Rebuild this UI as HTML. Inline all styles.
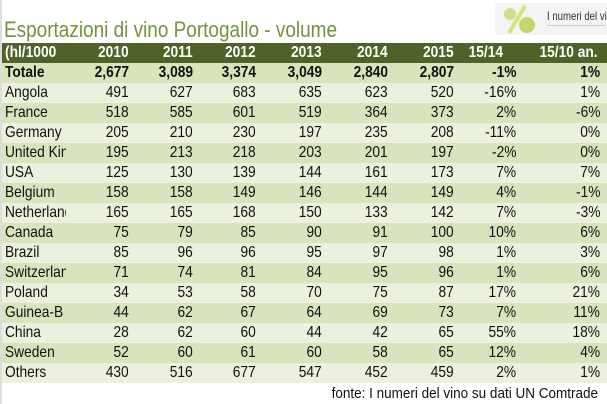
<!DOCTYPE html>
<html><head><meta charset="utf-8"><style>
body{margin:0;width:607px;height:404px;background:#fff;overflow:hidden;position:relative;font-family:"Liberation Sans",sans-serif;}
.r{position:absolute;left:2px;width:605px;height:20px;font-size:16px;line-height:20px;color:#111}
.r span{position:absolute;text-align:right;white-space:nowrap;transform:scaleX(0.86);transform-origin:right center}
.r span.c{left:3px;text-align:left;transform-origin:left center}
.cw{position:absolute;left:0;width:64px;height:20px;overflow:hidden}
.g{background:#d8e4bc}.l{background:#ebf1de}
.h{background:#4f6228;color:#fff;font-weight:bold}
.b{font-weight:bold}
.f{position:absolute;right:9px;top:384px;font-size:15px;color:#111;line-height:20px;transform:scaleX(0.9);transform-origin:right center;white-space:nowrap}
</style></head><body>
<div style="position:absolute;left:0;top:0;width:2px;height:404px;background:#ddd"></div>
<svg style="position:absolute;left:0;top:0" width="360" height="44"><text x="4" y="37" font-family="Liberation Sans" font-size="22" fill="#76923c" textLength="333" lengthAdjust="spacingAndGlyphs">Esportazioni di vino Portogallo - volume</text></svg>
<div style="position:absolute;left:495px;top:3px;width:112px;height:32px;background:#f4f4f4;overflow:hidden">
<svg width="50" height="32" style="position:absolute;left:0;top:0"><line x1="14" y1="30" x2="30" y2="3" stroke="#d4e57a" stroke-width="4"/><circle cx="15" cy="11" r="6" fill="#cfe08a"/><circle cx="32" cy="22" r="8" fill="#c2d86b"/></svg>
<div style="position:absolute;left:52px;top:6px;font-size:12px;color:#333;white-space:nowrap;transform:scaleX(0.8);transform-origin:left center">I numeri del vino</div>
<div style="position:absolute;left:52px;top:22px;width:58px;height:1px;background:#ccc"></div>
</div>
<div id="rows"></div>
<script>
var d=[["(hl/1000","2010","2011","2012","2013","2014","2015","15/14","15/10 an."],
["Totale","2,677","3,089","3,374","3,049","2,840","2,807","-1%","1%"],
["Angola","491","627","683","635","623","520","-16%","1%"],
["France","518","585","601","519","364","373","2%","-6%"],
["Germany","205","210","230","197","235","208","-11%","0%"],
["United Kingdom","195","213","218","203","201","197","-2%","0%"],
["USA","125","130","139","144","161","173","7%","7%"],
["Belgium","158","158","149","146","144","149","4%","-1%"],
["Netherlands","165","165","168","150","133","142","7%","-3%"],
["Canada","75","79","85","90","91","100","10%","6%"],
["Brazil","85","96","96","95","97","98","1%","3%"],
["Switzerland","71","74","81","84","95","96","1%","6%"],
["Poland","34","53","58","70","75","87","17%","21%"],
["Guinea-B","44","62","67","64","69","73","7%","11%"],
["China","28","62","60","44","42","65","55%","18%"],
["Sweden","52","60","61","60","58","65","12%","4%"],
["Others","430","516","677","547","452","459","2%","1%"]];
var rx=[131,195,258,324,390,456,518,602],h="";
d.forEach(function(r,i){var cls=i==0?"h":(i%2?"g":"l");if(i==1)cls+=" b";
h+='<div class="r '+cls+'" style="top:'+(43+i*20)+'px"><div class="cw"'+(i==0?' style="width:90px"':'')+'><span class="c">'+r[0]+'</span></div>';
for(var k=1;k<9;k++){var x=rx[k-1];if(i==0&&k==7)x=505;if(i==0&&k==8)x=600;
h+='<span style="right:'+(609-x)+'px">'+r[k]+'</span>';}h+='</div>';});
document.getElementById("rows").innerHTML=h;
</script>
<div class="f">fonte: I numeri del vino su dati UN Comtrade</div>
</body></html>
